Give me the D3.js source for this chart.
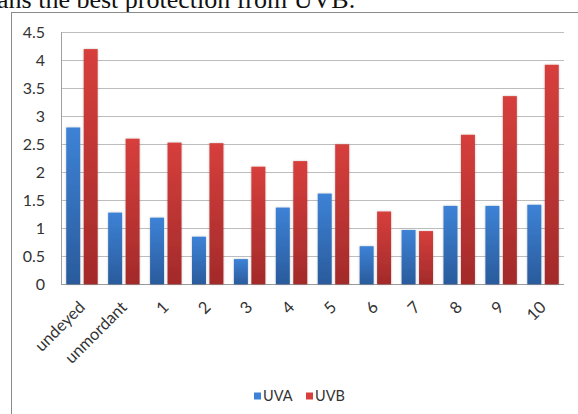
<!DOCTYPE html>
<html>
<head>
<meta charset="utf-8">
<script src="https://cdn.jsdelivr.net/npm/d3@7/dist/d3.min.js"></script>
<style>
  html, body { margin: 0; padding: 0; background: #fff; overflow: hidden; }
  svg { display: block; }
</style>
</head>
<body>
<svg id="chart" width="578" height="414"></svg>
<script>
// Dye samples and their measured UV protection factors
const categories = ["undeyed", "unmordant", "1", "2", "3", "4", "5", "6", "7", "8", "9", "10"];
const seriesNames = ["UVA", "UVB"];
const uvaValues = [2.80, 1.28, 1.19, 0.85, 0.45, 1.37, 1.62, 0.68, 0.97, 1.40, 1.40, 1.42];
const uvbValues = [4.20, 2.60, 2.53, 2.52, 2.10, 2.20, 2.50, 1.30, 0.95, 2.67, 3.36, 3.92];
const yTicks = [0, 0.5, 1, 1.5, 2, 2.5, 3, 3.5, 4, 4.5];

const rows = categories.map((c, i) => ({ cat: c, UVA: uvaValues[i], UVB: uvbValues[i] }));

const svg = d3.select("#chart");
const font = "Lato, 'Liberation Sans', sans-serif";

// Line of body text above the figure frame
svg.append("text")
  .attr("x", -3).attr("y", 8)
  .attr("font-family", "'Liberation Serif', serif")
  .attr("font-size", 26)
  .attr("fill", "#111")
  .text("ans the best protection from UVB.");

// Chart frame
svg.append("rect")
  .attr("x", 11.5).attr("y", 12.5)
  .attr("width", 700).attr("height", 500)
  .attr("fill", "#fff")
  .attr("stroke", "#8a8a8a").attr("stroke-width", 1);

const plot = { left: 61, right: 564, top: 32.3, bottom: 284.3 };

const y = d3.scaleLinear().domain([0, 4.5]).range([plot.bottom, plot.top]);
const x0 = d3.scaleBand().domain(categories).range([plot.left, plot.right])
  .paddingInner(0.25).paddingOuter(0.125);
const x1 = d3.scaleBand().domain(seriesNames).range([0, x0.bandwidth()]).paddingInner(0.2);

const defs = svg.append("defs");
const grads = { UVA: ["#3d82d6", "#2a5b9c"], UVB: ["#d63f3c", "#a32a2a"] };
Object.entries(grads).forEach(([k, [top, bot]]) => {
  const g = defs.append("linearGradient").attr("id", "g" + k)
    .attr("x1", 0).attr("y1", 0).attr("x2", 0).attr("y2", 1);
  g.append("stop").attr("offset", "0%").attr("stop-color", top);
  g.append("stop").attr("offset", "100%").attr("stop-color", bot);
});
const glow = defs.append("filter").attr("id", "glow")
  .attr("x", "-30%").attr("y", "-10%").attr("width", "160%").attr("height", "120%");
glow.append("feGaussianBlur").attr("in", "SourceAlpha").attr("stdDeviation", 0.8).attr("result", "b");
glow.append("feComponentTransfer").attr("in", "b").attr("result", "s")
  .append("feFuncA").attr("type", "linear").attr("slope", 0.25);
const mg = glow.append("feMerge");
mg.append("feMergeNode").attr("in", "s");
mg.append("feMergeNode").attr("in", "SourceGraphic");

// Value axis labels
const yAxis = d3.axisLeft(y).tickValues(yTicks).tickSize(0).tickPadding(16)
  .tickFormat(d => d3.format("")(d));
const axisG = svg.append("g").attr("transform", `translate(${plot.left},0)`).call(yAxis);
axisG.select(".domain").remove();
axisG.selectAll("text")
  .attr("font-family", font).attr("font-size", 16).attr("fill", "#333");

// Gridlines
svg.append("g").selectAll("line").data(yTicks).join("line")
  .attr("x1", plot.left).attr("x2", plot.right)
  .attr("y1", d => Math.round(y(d)) + 0.5).attr("y2", d => Math.round(y(d)) + 0.5)
  .attr("stroke", d => d === 0 ? "#9a9a9a" : "#bdbdbd").attr("stroke-width", 1);

svg.append("line")
  .attr("x1", plot.left + 0.5).attr("x2", plot.left + 0.5)
  .attr("y1", plot.top).attr("y2", Math.round(plot.bottom) + 0.5)
  .attr("stroke", "#a0a0a0");

// Bars
const groups = svg.append("g").selectAll("g").data(rows).join("g")
  .attr("transform", d => `translate(${x0(d.cat)},0)`);
groups.selectAll("rect")
  .data(d => seriesNames.map(k => ({ key: k, value: d[k] })))
  .join("rect")
  .attr("x", d => x1(d.key))
  .attr("width", x1.bandwidth())
  .attr("y", d => y(d.value))
  .attr("height", d => y(0) - y(d.value))
  .attr("fill", d => `url(#g${d.key})`)
  .attr("filter", "url(#glow)");

// Category labels, rotated
const xAxis = d3.axisBottom(x0).tickSize(0).tickPadding(0);
const xg = svg.append("g").attr("transform", `translate(0,${plot.bottom})`).call(xAxis);
xg.select(".domain").remove();
xg.selectAll("text")
  .attr("font-family", font).attr("font-size", 16.5).attr("fill", "#333")
  .attr("text-anchor", "end")
  .attr("dy", 0)
  .attr("y", 0)
  .attr("transform", "translate(4,24) rotate(-45)");

// Legend
const legend = svg.append("g").attr("transform", "translate(254,396)");
const legendX = { UVA: 0, UVB: 52 };
seriesNames.forEach(k => {
  const g = legend.append("g").attr("transform", `translate(${legendX[k]},0)`);
  g.append("rect").attr("x", 0).attr("y", -3.5).attr("width", 7).attr("height", 7)
    .attr("fill", grads[k][0]);
  g.append("text").attr("x", 9).attr("y", 0).attr("dy", "0.35em")
    .attr("font-family", font).attr("font-size", 14.5).attr("fill", "#333").text(k);
});
</script>
</body>
</html>
